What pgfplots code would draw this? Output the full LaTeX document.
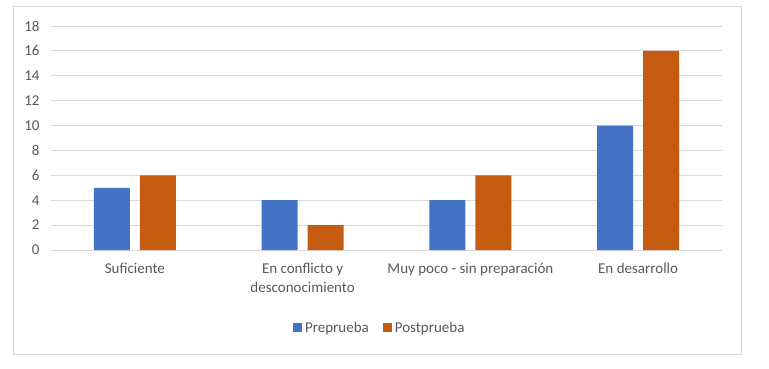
\documentclass[border=0pt]{standalone}
\usepackage{pgfplots}
\pgfplotsset{compat=1.18}
\usepackage{fontspec}
\setmainfont{Carlito}
\definecolor{cblue}{HTML}{4472C4}
\definecolor{corange}{HTML}{C55A11}
\definecolor{ctext}{HTML}{595959}
\definecolor{cgrid}{HTML}{D9D9D9}
\begin{document}
\begin{tikzpicture}[x=1pt,y=1pt]
\path (0,0) rectangle (769,368);
\draw[cgrid, line width=0.8pt] (13,14) rectangle (741,362);
\begin{axis}[
  at={(51pt,118pt)}, anchor=south west,
  scale only axis, width=671pt, height=224pt,
  ybar=10pt, bar width=36pt,
  xmin=-0.5, xmax=3.5, ymin=0, ymax=18,
  ytick={0,2,...,18},
  xtick={0,1,2,3},
  xticklabels={Suficiente, {En conflicto y\\desconocimiento}, {Muy poco - sin preparación}, En desarrollo},
  axis line style={draw=none},
  major tick length=0pt,
  ymajorgrids, grid style={cgrid, line width=0.8pt},
  tick label style={font=\fontsize{15}{19}\selectfont, text=ctext},
  /pgf/number format/assume math mode=true,
  xticklabel style={align=center, yshift=-10pt},
  yticklabel style={xshift=-8pt},
  legend style={at={(0.49,-0.348)}, anchor=center, draw=none, legend columns=2,
    font=\fontsize{15}{18}\selectfont, text=ctext,
    /tikz/every odd column/.append style={column sep=1pt},
    /tikz/every even column/.append style={column sep=12pt}},
  legend image code/.code={\fill[#1] (0pt,-4.5pt) rectangle (9pt,4.5pt);},
]
\addplot[fill=cblue, draw=none] coordinates {(0,5) (1,4) (2,4) (3,10)};
\addplot[fill=corange, draw=none] coordinates {(0,6) (1,2) (2,6) (3,16)};
\legend{Preprueba, Postprueba}
\end{axis}
\end{tikzpicture}
\end{document}
